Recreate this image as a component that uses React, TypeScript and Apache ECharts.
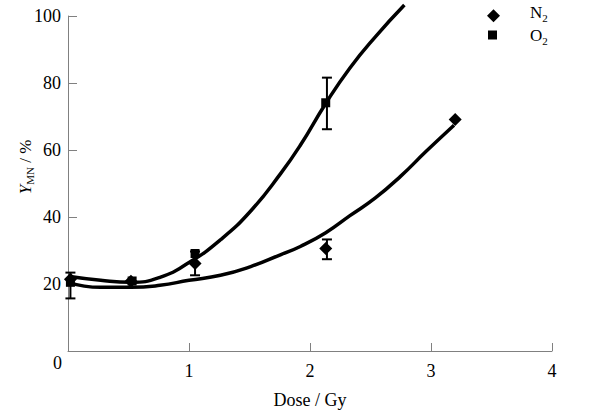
import React, { useEffect, useRef } from "react";
import * as echarts from "echarts";

const FONT = "'Liberation Serif', 'Times New Roman', serif";

// axis ticks
const xTickValues = [0, 1, 2, 3, 4];
const yTickValues = [0, 20, 40, 60, 80, 100];

// measured points
const n2Dose = [0.02, 0.52, 1.05, 2.13, 3.2];
const n2Value = [21.4, 20.8, 26.1, 30.6, 69.1];
const o2Dose = [0.02, 0.53, 1.05, 2.13];
const o2Value = [20.5, 20.9, 29.1, 74.1];

// error bars
const n2ErrDose = [1.05, 2.14];
const n2ErrLow = [22.6, 27.4];
const n2ErrHigh = [29.7, 33.3];
const o2ErrDose = [0.02, 2.14];
const o2ErrLow = [15.7, 66.2];
const o2ErrHigh = [23.4, 81.6];

// fitted curves
const o2FitDose = [0.0, 0.27, 0.52, 0.76, 1.0, 1.26, 1.51, 1.76, 1.92, 2.13, 2.33, 2.54, 2.78];
const o2FitValue = [22.3, 21.1, 20.5, 22.0, 26.4, 33.2, 41.8, 53.1, 61.4, 73.9, 84.5, 93.8, 103.3];
const n2FitDose = [0.0, 0.27, 0.52, 0.76, 1.0, 1.26, 1.51, 1.76, 1.92, 2.13, 2.33, 2.54, 2.75, 2.96, 3.19];
const n2FitValue = [20.5, 19.0, 19.0, 19.6, 21.1, 22.6, 25.2, 28.8, 31.2, 35.3, 40.4, 45.7, 52.2, 59.6, 67.4];

const zip = (a: number[], b: number[]) => a.map((v, i) => [v, b[i]]);
const zip3 = (a: number[], b: number[], c: number[]) => a.map((v, i) => [v, b[i], c[i]]);

const errRender = (params: any, api: any) => {
  const x = api.value(0);
  const lo = api.coord([x, api.value(1)]);
  const hi = api.coord([x, api.value(2)]);
  const w = 5;
  const style = { stroke: "#000", lineWidth: 2 };
  return {
    type: "group",
    children: [
      { type: "line", shape: { x1: lo[0], y1: lo[1], x2: hi[0], y2: hi[1] }, style },
      { type: "line", shape: { x1: lo[0] - w, y1: lo[1], x2: lo[0] + w, y2: lo[1] }, style },
      { type: "line", shape: { x1: hi[0] - w, y1: hi[1], x2: hi[0] + w, y2: hi[1] }, style },
    ],
  };
};

const legendRich = {
  m: { fontSize: 17, fontFamily: FONT, color: "#000", lineHeight: 22 },
  sub: { fontSize: 11, fontFamily: FONT, color: "#000", verticalAlign: "bottom" },
};

export default function App() {
  const ref = useRef<HTMLDivElement>(null);
  useEffect(() => {
    if (!ref.current) return;
    const chart = echarts.init(ref.current, undefined, { renderer: "svg" });
    const legendFmt = (name: string) => "{m|" + name.charAt(0) + "}{sub|" + name.slice(1) + "}";
    chart.setOption({
      animation: false,
      backgroundColor: "#fff",
      grid: { left: 68, top: 16, width: 484, height: 337, containLabel: false },
      legend: [
        {
          data: [{ name: "N2", icon: "diamond" }],
          orient: "vertical",
          left: 487,
          top: 4.3,
          padding: 0,
          itemWidth: 13,
          itemHeight: 13,
          formatter: legendFmt,
          textStyle: { fontSize: 17, fontFamily: FONT, color: "#000", padding: [0, 0, 6, 25], rich: legendRich },
          selectedMode: false,
        },
        {
          data: [{ name: "O2", icon: "rect" }],
          orient: "vertical",
          left: 488,
          top: 26.5,
          padding: 0,
          itemWidth: 9,
          itemHeight: 9,
          formatter: legendFmt,
          textStyle: { fontSize: 17, fontFamily: FONT, color: "#000", padding: [0, 0, 0, 28], rich: legendRich },
          selectedMode: false,
        },
      ],
      xAxis: {
        type: "value",
        min: xTickValues[0],
        max: xTickValues[xTickValues.length - 1],
        interval: 1,
        name: "Dose / Gy",
        nameLocation: "middle",
        nameGap: 40,
        nameTextStyle: { fontSize: 18, fontFamily: FONT, color: "#000" },
        axisLine: { lineStyle: { color: "#808080", width: 1 } },
        axisTick: { inside: true, length: 8, lineStyle: { color: "#808080" } },
        axisLabel: {
          showMinLabel: false,
          margin: 11,
          fontSize: 18,
          fontFamily: FONT,
          color: "#000",
        },
        splitLine: { show: false },
      },
      yAxis: {
        type: "value",
        min: yTickValues[0],
        max: yTickValues[yTickValues.length - 1],
        interval: 20,
        axisLine: { show: true, lineStyle: { color: "#808080", width: 1 } },
        axisTick: { show: true, inside: true, length: 9, lineStyle: { color: "#808080" } },
        axisLabel: {
          showMinLabel: false,
          margin: 7,
          fontSize: 18,
          fontFamily: FONT,
          color: "#000",
        },
        splitLine: { show: false },
      },
      graphic: [
        {
          type: "text",
          x: 57.5,
          y: 363,
          style: { text: "0", fontSize: 18, fontFamily: FONT, fill: "#000", align: "center", verticalAlign: "middle" },
        },
        {
          type: "text",
          x: 25,
          y: 167,
          rotation: Math.PI / 2,
          style: {
            text: "{i|Y}{s|MN}{n| / %}",
            align: "center",
            verticalAlign: "middle",
            rich: {
              i: { fontSize: 17, fontFamily: FONT, fontStyle: "italic", fill: "#000" },
              s: { fontSize: 11, fontFamily: FONT, fill: "#000", padding: [9, 0, 0, 0] },
              n: { fontSize: 17, fontFamily: FONT, fill: "#000" },
            },
          },
        },
      ],
      series: [
        {
          name: "O2 fit",
          type: "line",
          data: zip(o2FitDose, o2FitValue),
          smooth: 0.5,
          showSymbol: false,
          clip: false,
          lineStyle: { color: "#000", width: 3.5 },
          silent: true,
        },
        {
          name: "N2 fit",
          type: "line",
          data: zip(n2FitDose, n2FitValue),
          smooth: 0.5,
          showSymbol: false,
          clip: false,
          lineStyle: { color: "#000", width: 3.5 },
          silent: true,
        },
        {
          name: "N2 err",
          type: "custom",
          renderItem: errRender,
          encode: { x: 0, y: [1, 2] },
          data: zip3(n2ErrDose, n2ErrLow, n2ErrHigh),
          clip: false,
          z: 3,
        },
        {
          name: "O2 err",
          type: "custom",
          renderItem: errRender,
          encode: { x: 0, y: [1, 2] },
          data: zip3(o2ErrDose, o2ErrLow, o2ErrHigh),
          clip: false,
          z: 3,
        },
        {
          name: "N2",
          type: "scatter",
          symbol: "diamond",
          symbolSize: 13,
          itemStyle: { color: "#000", opacity: 1 },
          data: zip(n2Dose, n2Value),
          z: 4,
        },
        {
          name: "O2",
          type: "scatter",
          symbol: "rect",
          symbolSize: 9,
          itemStyle: { color: "#000", opacity: 1 },
          data: zip(o2Dose, o2Value),
          z: 5,
        },
      ],
    });
    return () => chart.dispose();
  }, []);
  return (
    <div
      ref={ref}
      style={{ position: "fixed", left: 0, top: 0, width: 594, height: 414, background: "#fff" }}
    />
  );
}
